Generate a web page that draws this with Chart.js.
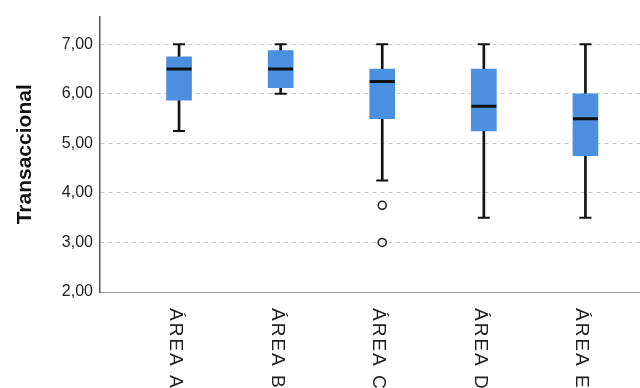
<!DOCTYPE html>
<html>
<head>
<meta charset="utf-8">
<script src="https://cdn.jsdelivr.net/npm/chart.js@4.4.1/dist/chart.umd.min.js"></script>
<style>
    html, body { margin: 0; padding: 0; background: #fff; overflow: hidden; }
    canvas { display: block; }
</style>
</head>
<body>
<canvas id="boxChart" width="640" height="388"></canvas>
<script>
// values (Transaccional by area)
const categories = ["ÁREA A", "ÁREA B", "ÁREA C", "ÁREA D", "ÁREA E"];
const whiskerLow = [5.25, 6.0, 4.25, 3.5, 3.5];
const q1 = [5.875, 6.125, 5.5, 5.25, 4.75];
const median = [6.5, 6.5, 6.25, 5.75, 5.5];
const q3 = [6.75, 6.875, 6.5, 6.5, 6.0];
const whiskerHigh = [7.0, 7.0, 7.0, 7.0, 7.0];
const outliers = [[], [], [3.75, 3.0], [], []];
const yTicks = [2, 3, 4, 5, 6, 7];

const pos = categories.map((c, i) => i + 1);

// draws the rotated category labels under the axis (top-to-bottom reading)
const verticalLabels = {
    id: "verticalLabels",
    afterDraw(chart) {
        const ctx = chart.ctx;
        const xScale = chart.scales.x;
        const top = chart.chartArea.bottom + 16;
        ctx.save();
        ctx.font = "19px Arial";
        ctx.fillStyle = "#222";
        ctx.textAlign = "left";
        ctx.textBaseline = "alphabetic";
        if ("letterSpacing" in ctx) ctx.letterSpacing = "2px";
        categories.forEach((label, i) => {
            const x = xScale.getPixelForValue(pos[i]);
            ctx.save();
            ctx.translate(x - 9, top);
            ctx.rotate(Math.PI / 2);
            ctx.fillText(label, 0, 0);
            ctx.restore();
        });
        ctx.restore();
    },
};

const el = document.getElementById("boxChart");

new Chart(el, {
    type: "bar",
    data: {
        datasets: [
            {
                // whisker line (drawn behind the box)
                type: "bar",
                data: pos.map((x, i) => ({ x: x, y: [whiskerLow[i], whiskerHigh[i]] })),
                backgroundColor: "#111",
                barThickness: 2,
                grouped: false,
                order: 3,
            },
            {
                // box q1..q3
                type: "bar",
                data: pos.map((x, i) => ({ x: x, y: [q1[i], q3[i]] })),
                backgroundColor: "#4a8fe0",
                barThickness: 25,
                grouped: false,
                order: 2,
            },
            {
                // whisker caps
                type: "scatter",
                data: pos.flatMap((x, i) => [
                    { x: x, y: whiskerLow[i] },
                    { x: x, y: whiskerHigh[i] },
                ]),
                pointStyle: "line",
                radius: 6,
                borderWidth: 2,
                borderColor: "#111",
                order: 1,
            },
            {
                // median
                type: "scatter",
                data: pos.map((x, i) => ({ x: x, y: median[i] })),
                pointStyle: "line",
                radius: 12.5,
                borderWidth: 3,
                borderColor: "#111",
                order: 0,
            },
            {
                // outliers
                type: "scatter",
                data: pos.flatMap((x, i) => outliers[i].map((v) => ({ x: x, y: v }))),
                pointStyle: "circle",
                radius: 4,
                borderWidth: 1.6,
                borderColor: "#222",
                backgroundColor: "#fff",
                order: 0,
            },
        ],
    },
    options: {
        responsive: false,
        devicePixelRatio: 1,
        animation: false,
        layout: {
            autoPadding: false,
            padding: { top: 14, right: 0, bottom: 96, left: 0 },
        },
        plugins: {
            legend: { display: false },
            tooltip: { enabled: false },
        },
        scales: {
            x: {
                type: "linear",
                offset: false,
                min: 0.222,
                max: 5.537,
                ticks: { display: false },
                grid: { display: false, offset: false },
                border: { display: true, color: "#999", width: 1 },
                afterFit(scale) {
                    scale.height = 0;
                    scale.paddingLeft = 0;
                    scale.paddingRight = 0;
                },
            },
            y: {
                min: 2,
                max: 7.56,
                afterBuildTicks(scale) {
                    scale.ticks = yTicks.map((v) => ({ value: v }));
                },
                ticks: {
                    padding: 7,
                    color: "#222",
                    font: { family: "Arial", size: 16 },
                    callback: (v) => Number(v).toFixed(2).replace(".", ","),
                },
                grid: {
                    color: "#c4c4c4",
                    drawTicks: false,
                },
                border: { display: true, color: "#555", width: 1.5, dash: [4, 4] },
                title: {
                    display: true,
                    text: "Transaccional",
                    color: "#111",
                    font: { family: "Arial", size: 21, weight: "bold" },
                    padding: { top: 13, bottom: 0 },
                },
                afterFit(scale) {
                    scale.width = 100;
                },
            },
        },
    },
    plugins: [verticalLabels],
});
</script>
</body>
</html>
